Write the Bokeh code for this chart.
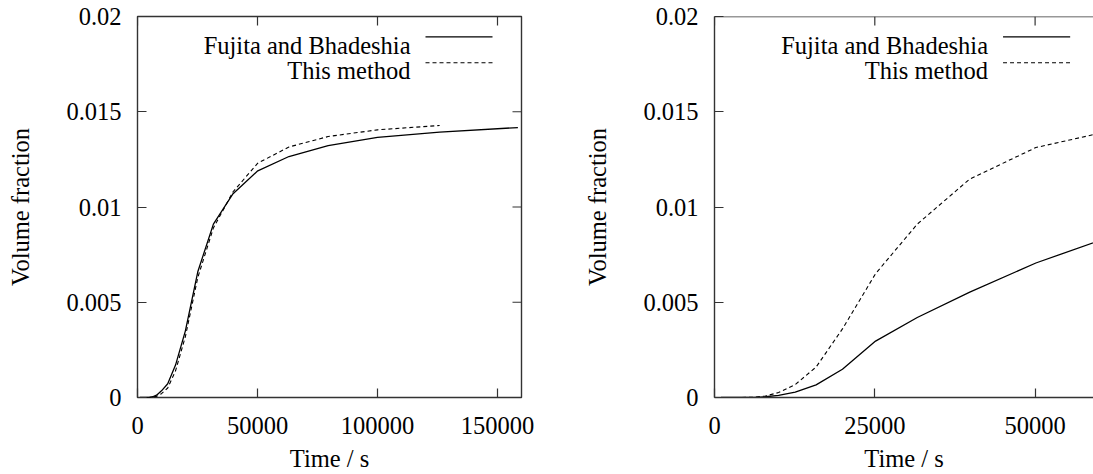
from bokeh.plotting import figure
from bokeh.layouts import row
from bokeh.models import Range1d, FixedTicker, CustomJSTickFormatter, Label, Span
from bokeh.embed import file_html
from bokeh.resources import INLINE

# ---------------- data ----------------
times = [1000, 1259, 1585, 1995, 2512, 3162, 3981, 5012, 6310, 7943, 10000,
         12589, 15849, 19953, 25119, 31623, 39811, 50119, 63096, 79433,
         100000, 125893, 158489]

left_fujita = [0.0, 0.0, 0.0, 0.0, 0.0, 0.000001, 0.000003, 0.00001, 0.00004,
               0.00012, 0.00035, 0.00072, 0.0017, 0.0035, 0.0066, 0.0091,
               0.0107, 0.0119, 0.01265, 0.01322, 0.01365, 0.01393, 0.01417]

left_method_times = times[:22]
left_method = [0.0, 0.0, 0.0, 0.0, 0.0, 0.0, 0.000001, 0.000005, 0.00002,
               0.00006, 0.0002, 0.0005, 0.0014, 0.0032, 0.0063, 0.0089,
               0.0108, 0.0123, 0.01315, 0.0137, 0.01405, 0.01428]

right_times = times[:19]
right_fujita = [0.0, 0.0, 0.0, 0.0, 0.0, 0.0, 0.000001, 0.000003, 0.00001,
                0.00004, 0.00011, 0.00028, 0.00066, 0.00148, 0.00296, 0.0042,
                0.00553, 0.00706, 0.0086]
right_method = [0.0, 0.0, 0.0, 0.0, 0.0, 0.0, 0.000001, 0.000005, 0.00002,
                0.00008, 0.00026, 0.00068, 0.0016, 0.0036, 0.0065, 0.0091,
                0.01147, 0.01312, 0.0141]

left_xticks = [0, 50000, 100000, 150000]
right_xticks = [0, 25000, 50000]
yticks = [0, 0.005, 0.01, 0.015, 0.02]
x_label = "Time / s"
y_label = "Volume fraction"
series_names = ["Fujita and Bhadeshia", "This method"]

# ---------------- style ----------------
FONT = "Liberation Serif"
FS = "24.5px"
FRAME = "#333333"
H = 474
TOP, BOTTOM, LEFT = 16, 75, 137
FRAME_H = H - TOP - BOTTOM
Y_MAX = 0.02
TICK = 9


def style_axis(ax, ticks, line):
    ax.ticker = FixedTicker(ticks=ticks)
    ax.formatter = CustomJSTickFormatter(code="return tick.toString();")
    ax.major_tick_in = TICK
    ax.major_tick_out = 0
    ax.minor_tick_line_color = None
    ax.major_tick_line_color = FRAME
    ax.major_tick_line_width = 1.2
    ax.axis_line_color = FRAME if line else None
    ax.axis_line_width = 1.4
    ax.major_label_text_font = FONT
    ax.major_label_text_color = "black"
    ax.major_label_text_font_size = FS
    ax.axis_label_text_font = FONT
    ax.axis_label_text_font_size = FS
    ax.axis_label_text_font_style = "normal"
    ax.axis_label_text_color = "black"


def make_panel(width, border_right, x_end, x_full, xticks, t_s, solid, t_d, dashed, box):
    p = figure(width=width, height=H, output_backend="svg", toolbar_location=None,
               x_range=Range1d(0, x_end), y_range=Range1d(0, Y_MAX),
               min_border_left=LEFT, min_border_right=border_right,
               min_border_top=TOP, min_border_bottom=BOTTOM,
               x_axis_label=x_label, y_axis_label=y_label)
    p.xgrid.visible = False
    p.ygrid.visible = False
    p.background_fill_color = "white"
    p.border_fill_color = "white"

    xa = p.xaxis[0]
    ya = p.yaxis[0]
    style_axis(xa, xticks, not box)
    style_axis(ya, yticks, not box)
    xa.major_label_standoff = 19
    xa.axis_label_standoff = 8
    ya.major_label_standoff = 16
    ya.axis_label_standoff = 29

    upp = x_full / 384.0          # data units per pixel (x)
    ypp = Y_MAX / FRAME_H         # data units per pixel (y)

    # mirror ticks (top, and right when the right border is visible)
    n = len(xticks)
    p.segment(x0=xticks, y0=[Y_MAX] * n, x1=xticks, y1=[Y_MAX - TICK * ypp] * n,
              line_color=FRAME, line_width=1.2)
    if box:
        m = len(yticks)
        p.segment(x0=[x_end] * m, y0=yticks, x1=[x_end - TICK * upp] * m, y1=yticks,
                  line_color=FRAME, line_width=1.2)
        p.outline_line_color = FRAME
        p.outline_line_width = 1.4
    else:
        p.outline_line_color = None
        p.add_layout(Span(location=Y_MAX, dimension="width",
                          line_color=FRAME, line_width=1.4))

    p.line(t_s, solid, line_color="black", line_width=1.3)
    p.line(t_d, dashed, line_color="black", line_width=1.1, line_dash="4 3")

    # legend (gnuplot style: right-aligned text followed by sample)
    def ypix(py):
        return Y_MAX - (py - TOP) * ypp

    text_x = x_full - 111 * upp
    x0 = x_full - 96 * upp
    x1 = x_full - 29 * upp
    for name, base_py, line_py, dash in [(series_names[0], 45.5, 36.5, None),
                                         (series_names[1], 70.5, 62.5, "4 3")]:
        p.add_layout(Label(x=text_x, y=ypix(base_py), text=name, text_align="right",
                           text_baseline="alphabetic", text_font=FONT,
                           text_font_size=FS, text_color="black"))
        kw = dict(line_color="black", line_width=1.2)
        if dash:
            kw["line_dash"] = dash
        p.line([x0, x1], [ypix(line_py)] * 2, **kw)
    return p


p1 = make_panel(577, 56, 160000, 160000, left_xticks, times, left_fujita,
                left_method_times, left_method, True)
p2 = make_panel(516, 0, 379 * 25000 / 160.3, 60000, right_xticks, right_times,
                right_fujita, right_times, right_method, False)

layout = row(p1, p2)
open("out.html", "w").write(file_html(layout, INLINE))
